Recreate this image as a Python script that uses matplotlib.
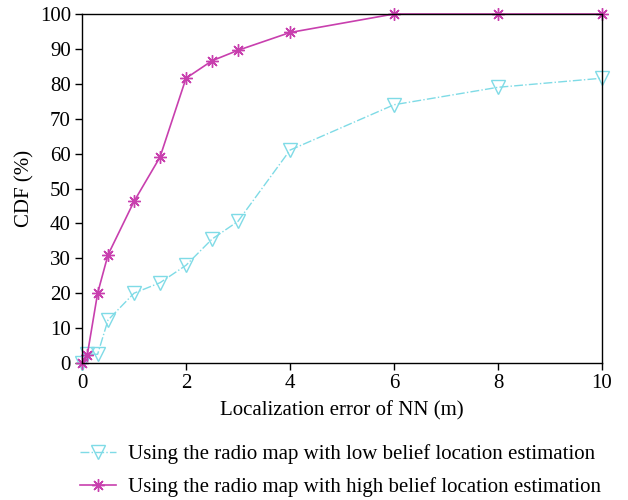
import numpy as np
import matplotlib
matplotlib.use("Agg")
import matplotlib.pyplot as plt
from matplotlib.lines import Line2D

plt.rcParams['font.family'] = ['Liberation Serif', 'DejaVu Serif']

x_low = [0, 0.1, 0.3, 0.5, 1, 1.5, 2, 2.5, 3, 4, 6, 8, 10]
y_low = [0, 2.5, 2.5, 12.3, 20, 23, 28, 35.5, 40.6, 61, 74, 79, 81.6]
x_high = [0, 0.1, 0.3, 0.5, 1, 1.5, 2, 2.5, 3, 4, 6, 8, 10]
y_high = [0, 2.2, 20, 31, 46.3, 59, 81.6, 86.6, 89.6, 94.7, 100, 100, 100]

label_low = "Using the radio map with low belief location estimation"
label_high = "Using the radio map with high belief location estimation"
xlabel = "Localization error of NN (m)"
ylabel = "CDF (%)"
xticks = [0, 2, 4, 6, 8, 10]
yticks = [0, 10, 20, 30, 40, 50, 60, 70, 80, 90, 100]

c_low = '#7fdbe6'
c_high = '#c83fae'
fs = 15

fig = plt.figure(figsize=(6.28, 5.0), dpi=100)
ax = fig.add_axes([0.1306, 0.274, 0.828, 0.698])

ax.plot(x_low, y_low, linestyle='-.', color=c_low, lw=1.0, clip_on=False)
ax.plot(x_low, y_low, linestyle='none', marker='v', markersize=10, markerfacecolor='none',
        markeredgecolor=c_low, markeredgewidth=1.0, clip_on=False)
ax.plot(x_high, y_high, linestyle='-', color=c_high, lw=1.2, clip_on=False)
ax.plot(x_high, y_high, linestyle='none', marker=(8, 2, 0), markersize=9,
        markeredgecolor=c_high, markeredgewidth=1.0, clip_on=False)

ax.set_xlim(0, 10)
ax.set_ylim(0, 100)
ax.set_xticks(xticks)
ax.set_yticks(yticks)
ax.tick_params(direction='out', length=5, width=1, labelsize=fs, top=False, right=False, pad=3)
for s in ax.spines.values():
    s.set_linewidth(1.0)
ax.set_xlabel(xlabel, fontsize=fs, labelpad=6)
ax.set_ylabel(ylabel, fontsize=fs, labelpad=4)

h1 = Line2D([], [], linestyle='-.', color=c_low, lw=1.0, marker='v', markersize=10,
            markerfacecolor='none', markeredgecolor=c_low)
h2 = Line2D([], [], linestyle='-', color=c_high, lw=1.2, marker=(8, 2, 0), markersize=9,
            markeredgecolor=c_high)
fig.legend([h1, h2], [label_low, label_high], loc='upper left',
           bbox_to_anchor=(0.127, 0.112), frameon=False, fontsize=fs,
           handlelength=1.75, handletextpad=0.55, labelspacing=0.65,
           borderaxespad=0, borderpad=0)

fig.savefig('out.png', dpi=100)
